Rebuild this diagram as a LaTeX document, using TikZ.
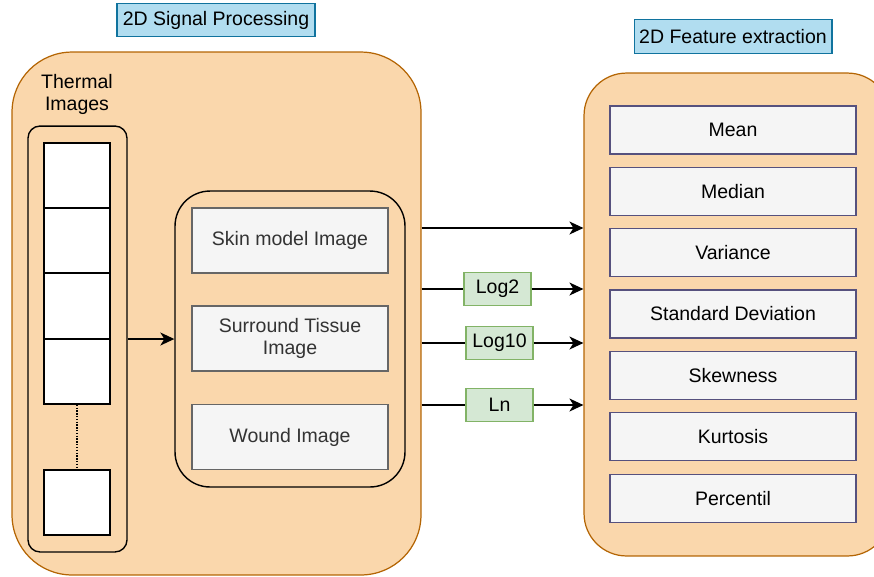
\documentclass[tikz,border=0pt]{standalone}
\usepackage{fontspec}
\setmainfont{Liberation Sans}
\usetikzlibrary{matrix,arrows.meta,positioning}
\definecolor{orfill}{HTML}{FAD7AC}
\definecolor{ordraw}{HTML}{B46504}
\definecolor{bluefill}{HTML}{B1DDF0}
\definecolor{bluedraw}{HTML}{10739E}
\definecolor{greenfill}{HTML}{D5E8D4}
\definecolor{greendraw}{HTML}{82B366}
\definecolor{greyfill}{HTML}{F5F5F5}
\definecolor{greydraw}{HTML}{666666}
\definecolor{greytext}{HTML}{333333}
\definecolor{purpdraw}{HTML}{56517E}

\begin{document}
\begin{tikzpicture}[x=0.02cm,y=-0.02cm,
    font=\fontsize{11.1}{13}\selectfont,
    title/.style={draw=bluedraw,fill=bluefill,line width=0.6pt,inner sep=0pt,
        minimum width=3.96cm,minimum height=0.67cm},
    panel/.style={draw=ordraw,fill=orfill,line width=0.7pt},
    frame/.style={draw=black,line width=0.8pt},
    imgbox/.style={draw=greydraw,fill=greyfill,text=greytext,line width=0.7pt,
        align=center,minimum width=3.92cm,minimum height=1.3cm},
    slot/.style={draw=black,fill=white,line width=0.8pt,minimum width=1.32cm,minimum height=1.3cm},
    logbox/.style={draw=greendraw,fill=greenfill,line width=0.7pt,minimum width=1.34cm,minimum height=0.67cm},
    statbox/.style={draw=purpdraw,fill=greyfill,line width=0.7pt,minimum width=4.92cm,minimum height=0.96cm},
    arr/.style={line width=0.8pt,-{Stealth[length=0.28cm,width=0.26cm,inset=0.08cm]}}
]
    \useasboundingbox (0,0) rectangle (874,576);

    % titles
    \node[title] (sigtitle) at (216,20) {2D Signal Processing};
    \node[title] (feattitle) at (733,36.5) {2D Feature extraction};

    % containers
    \node[panel,rounded corners=1.2cm,minimum width=8.18cm,minimum height=10.46cm] (proc) at (216.5,313.5) {};
    \node[panel,rounded corners=0.85cm,minimum width=6.12cm,minimum height=9.66cm] (extr) at (737,314.5) {};
    \node[frame,rounded corners=0.24cm,minimum width=1.98cm,minimum height=8.52cm] (therm) at (77.5,339) {};
    \node[frame,rounded corners=0.7cm,minimum width=4.6cm,minimum height=5.92cm] (inner) at (290,339) {};

    \node[align=center,font=\fontsize{11.1}{12.5}\selectfont] (thermlbl) at (77,94) {Thermal\\Images};

    % image slots
    \foreach \i/\y in {1/175.5,2/240.5,3/306,4/371.5,5/502.5}
        \node[slot] (sq\i) at (77,\y) {};
    \draw[line width=0.8pt,dash pattern=on 0.8pt off 0.8pt] (sq4.south) -- (sq5.north);

    \node[imgbox] (skin) at (290,240.5) {Skin model Image};
    \node[imgbox] (tissue) at (290,338.5) {Surround Tissue\\Image};
    \node[imgbox] (wound) at (290,437) {Wound Image};

    \draw[arr] (therm.east) -- (inner.west);

    % statistics
    \matrix (stats) [matrix of nodes,inner sep=0pt,row sep=0.243cm,
        nodes={statbox}] at (733,314) {
        Mean \\
        Median \\
        Variance \\
        Standard Deviation \\
        Skewness \\
        Kurtosis \\
        Percentil \\
    };

    % log transforms
    \node[logbox] (lg2) at (497.5,289) {Log2};
    \node[logbox] (lg10) at (499.5,343) {Log10};
    \node[logbox] (ln) at (499.5,405) {Ln};

    \draw[arr] (proc.east |- 0,228) -- (extr.west |- 0,228);
    \foreach \n in {lg2,lg10,ln}{
        \draw[line width=0.8pt] (proc.east |- \n) -- (\n.west);
        \draw[arr] (\n.east) -- (extr.west |- \n);
    }
\end{tikzpicture}
\end{document}
